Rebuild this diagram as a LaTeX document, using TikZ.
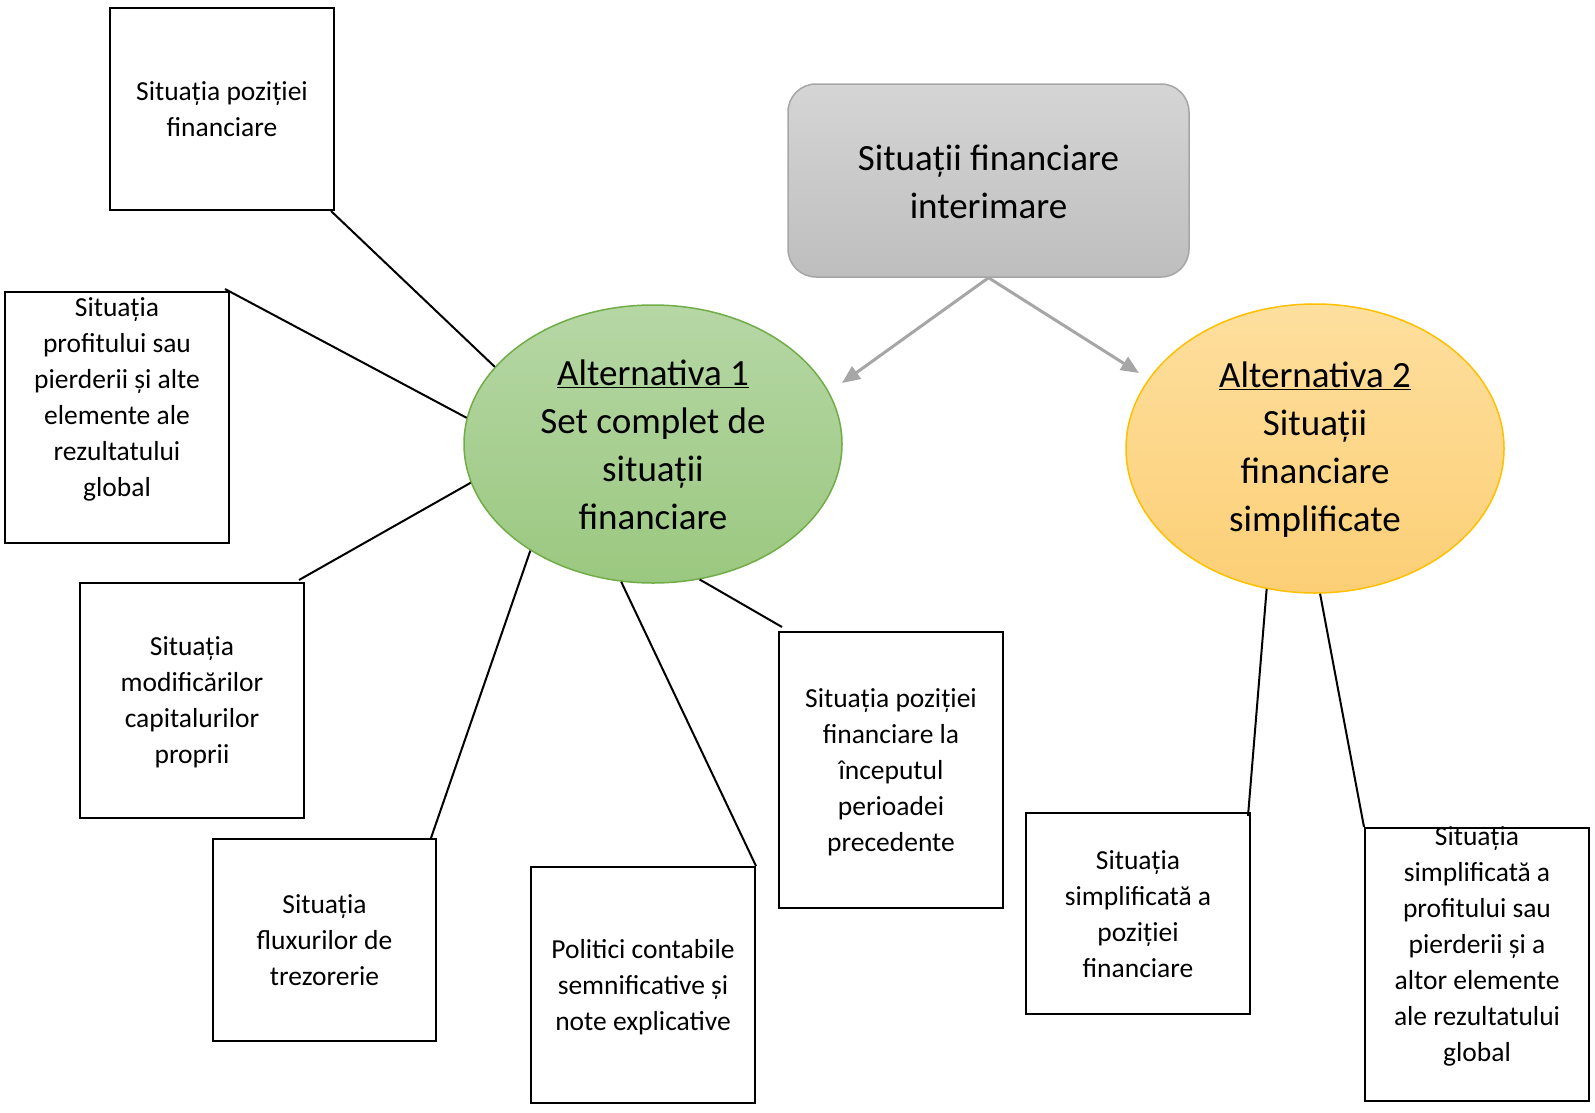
\documentclass[tikz,border=0pt]{standalone}
\usepackage{fontspec}
\setmainfont{Carlito}
\usetikzlibrary{arrows.meta,shapes.geometric,calc}
\definecolor{grtop}{RGB}{182,215,165}
\definecolor{grbot}{RGB}{155,200,128}
\definecolor{grline}{RGB}{112,173,71}
\definecolor{ortop}{RGB}{254,223,158}
\definecolor{orbot}{RGB}{252,207,118}
\definecolor{orline}{RGB}{255,192,0}
\definecolor{gytop}{RGB}{213,213,213}
\definecolor{gybot}{RGB}{190,190,190}
\definecolor{gyline}{RGB}{166,166,166}
\tikzset{
  box/.style={draw=black,line width=2pt,minimum width=224pt,inner sep=0pt,fill=white},
  txt/.style={align=center,inner sep=0pt,font=\fontsize{27.5}{36}\selectfont},
  bigtxt/.style={align=center,inner sep=0pt,font=\fontsize{37}{48}\selectfont},
  conn/.style={draw=black,line width=2pt},
  garrow/.style={draw=gyline,line width=3pt,-{Triangle[length=18pt,width=15pt]}}
}
\begin{document}
\begin{tikzpicture}[x=1pt,y=-1pt]
\useasboundingbox (0,0) rectangle (1595,1112);
\fill[white] (0,0) rectangle (1595,1112);

% central shapes
\node[draw=gyline,line width=1.5pt,rounded corners=28pt,top color=gytop,bottom color=gybot,
      minimum width=401pt,minimum height=193pt,inner sep=0pt] (top) at (988.5,180.5) {};
\node[bigtxt] (toptxt) at (988.5,182) {Situații financiare\\interimare};

\node[draw=grline,line width=1.5pt,ellipse,top color=grtop,bottom color=grbot,
      minimum width=378pt,minimum height=278pt,inner sep=0pt] (alt1) at (653,444) {};
\node[bigtxt] (alt1txt) at (653,445) {\underline{Alternativa 1}\\Set complet de\\situații\\financiare};

\node[draw=orline,line width=1.5pt,ellipse,top color=ortop,bottom color=orbot,
      minimum width=378pt,minimum height=289pt,inner sep=0pt] (alt2) at (1315,448.5) {};
\node[bigtxt] (alt2txt) at (1315,450) {\underline{Alternativa 2}\\Situații\\financiare\\simplificate};

% boxes
\node[box,minimum height=202pt] (b1) at (222,109) {};
\node[txt] at (222,109) {Situația poziției\\financiare};

\node[box,minimum height=251pt] (b2) at (117,417.5) {};
\node[txt,anchor=north] at (117,297) {Situația\\profitului sau\\pierderii și alte\\elemente ale\\rezultatului\\global};

\node[box,minimum height=235pt] (b3) at (192,700.5) {};
\node[txt] at (192,702) {Situația\\modificărilor\\capitalurilor\\proprii};

\node[box,minimum width=223pt,minimum height=202pt] (b4) at (324.5,940) {};
\node[txt] at (324.5,940) {Situația\\fluxurilor de\\trezorerie};

\node[box,minimum height=236pt] (b5) at (643,985) {};
\node[txt] at (643,987) {Politici contabile\\semnificative și\\note explicative};

\node[box,minimum height=276pt] (b6) at (891,770) {};
\node[txt] at (891,772) {Situația poziției\\financiare la\\începutul\\perioadei\\precedente};

\node[box,minimum height=201pt] (b7) at (1138,913.5) {};
\node[txt] at (1138,914) {Situația\\simplificată a\\poziției\\financiare};

\node[box,minimum height=273pt] (b8) at (1477,964.5) {};
\node[txt,anchor=north] at (1477,826) {Situația\\simplificată a\\profitului sau\\pierderii și a\\altor elemente\\ale rezultatului\\global};

% arrows
\coordinate (e1) at (842,383);
\coordinate (e2) at (1139,373);
\draw[garrow] (top.south) -- (e1);
\draw[garrow] (top.south) -- (e2);

% connectors
\draw[conn] ([xshift=-4pt]b1.south east) -- (alt1.154);
\draw[conn] ([xshift=-5pt,yshift=2pt]b2.north east) -- (alt1.172);
\draw[conn] ([xshift=-6pt,yshift=2pt]b3.north east) -- (alt1.192);
\draw[conn] ([xshift=-6pt]b4.north east) -- (alt1.221);
\draw[conn] (b5.north east) -- (alt1.257.5);
\draw[conn] ([xshift=4pt,yshift=4pt]b6.north west) -- (alt1.289);
\draw[conn] ([xshift=-3pt,yshift=-4pt]b7.north east) -- (alt2.251);
\draw[conn] (b8.north west) -- (alt2.272.5);
\end{tikzpicture}
\end{document}
